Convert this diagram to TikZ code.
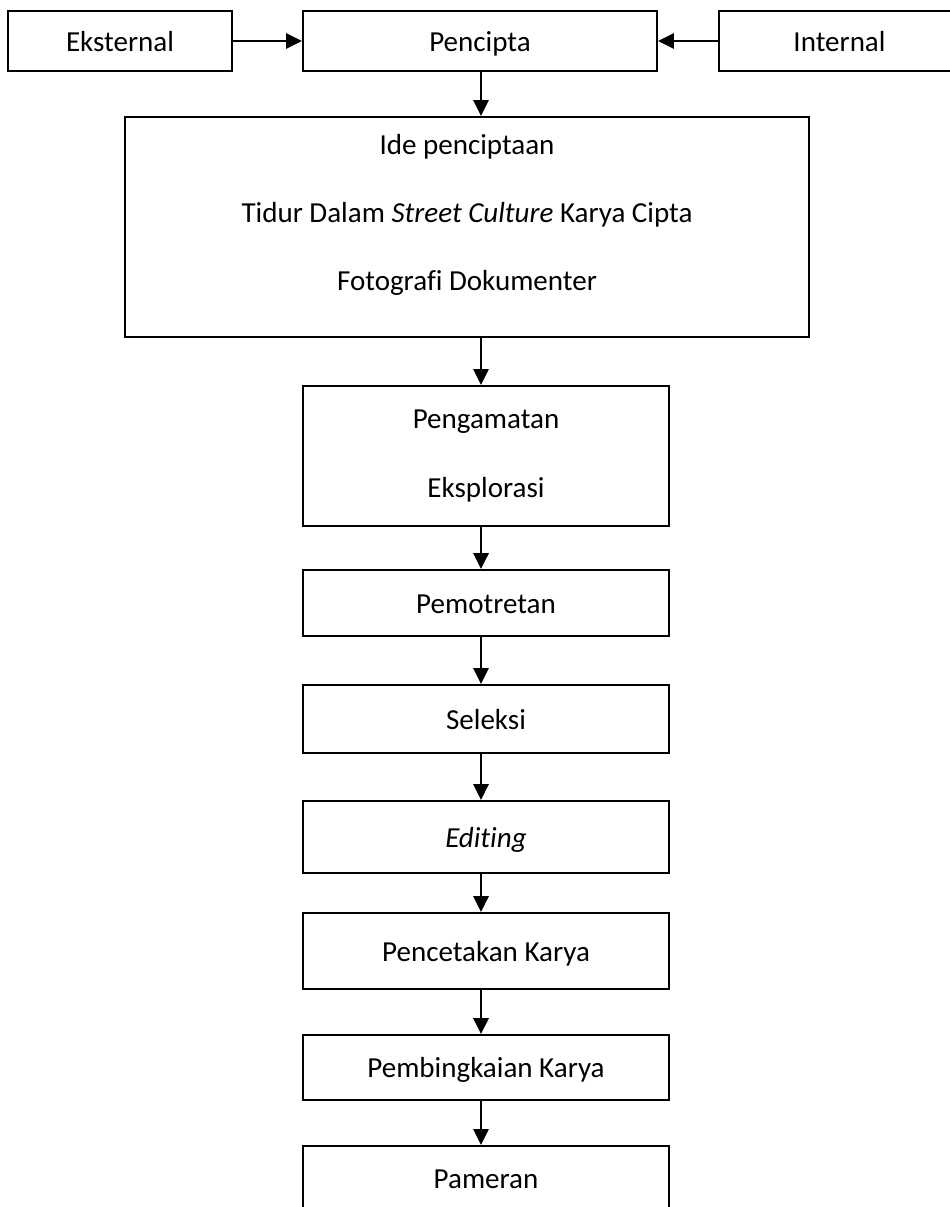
\documentclass[tikz,border=0pt]{standalone}
\usepackage{fontspec}
\setmainfont{Carlito}[Ligatures=NoCommon]
\usetikzlibrary{arrows.meta}

\begin{document}
\begin{tikzpicture}[x=0.379pt, y=-0.379pt]
	\tikzset{framed/.style={draw, line width=0.8pt, inner sep=0pt}}
	\tikzset{stepbox/.style={framed, text height=10.2pt, text depth=2.6pt, font=\fontsize{11}{13.2}\selectfont}}
	\tikzset{flow/.style={line width=0.8pt, -{Triangle[length=6pt, width=5.8pt]}}}
	\useasboundingbox (0,0) rectangle (950,1207);
	\clip (0,0) rectangle (950,1207);
	% \draw (0,0) grid [step=50] (950,1207);
	\coordinate (axis) at (481,0);
	\node[stepbox, minimum width=84.9pt, minimum height=22.7pt] (eksternal) at (120,41) {Eksternal};
	\node[stepbox, minimum width=134.2pt, minimum height=22.7pt] (pencipta) at (480,41) {Pencipta};
	\node[stepbox, minimum width=91.3pt, minimum height=22.7pt] (internal) at (839.5,41) {Internal};
	\node[framed, minimum width=259.2pt, minimum height=83.4pt] (ide) at (467,227) {};
	\node[align=center, font=\fontsize{11}{25.8}\selectfont] (ide text) at (467,215)
		{Ide penciptaan\\Tidur Dalam \textit{Street Culture} Karya Cipta\\Fotografi Dokumenter};
	\node[framed, minimum width=138.7pt, minimum height=53.1pt, align=center,
		font=\fontsize{11}{26.2}\selectfont] (pengamatan) at (486,456) {Pengamatan\\Eksplorasi};
	\node[stepbox, minimum width=138.7pt, minimum height=25pt] (pemotretan) at (486,603) {Pemotretan};
	\node[stepbox, minimum width=138.7pt, minimum height=25.8pt] (seleksi) at (486,719) {Seleksi};
	\node[stepbox, minimum width=138.7pt, minimum height=27.3pt] (editing) at (486,837) {\textit{Editing}};
	\node[stepbox, minimum width=138.7pt, minimum height=28.8pt] (pencetakan) at (486,951) {Pencetakan Karya};
	\node[stepbox, minimum width=138.7pt, minimum height=24.6pt] (pembingkaian) at (486,1067.5) {Pembingkaian Karya};
	\node[stepbox, minimum width=138.7pt, minimum height=24.3pt] (pameran) at (486,1178) {Pameran};
	\draw [flow] (eksternal) -- (pencipta);
	\draw [flow] (internal) -- (pencipta);
	\draw [flow] (axis |- pencipta.south) -- (axis |- ide.north);
	\draw [flow] (axis |- ide.south) -- (axis |- pengamatan.north);
	\draw [flow] (axis |- pengamatan.south) -- (axis |- pemotretan.north);
	\draw [flow] (axis |- pemotretan.south) -- (axis |- seleksi.north);
	\draw [flow] (axis |- seleksi.south) -- (axis |- editing.north);
	\draw [flow] (axis |- editing.south) -- (axis |- pencetakan.north);
	\draw [flow] (axis |- pencetakan.south) -- (axis |- pembingkaian.north);
	\draw [flow] (axis |- pembingkaian.south) -- (axis |- pameran.north);
\end{tikzpicture}
\end{document}
